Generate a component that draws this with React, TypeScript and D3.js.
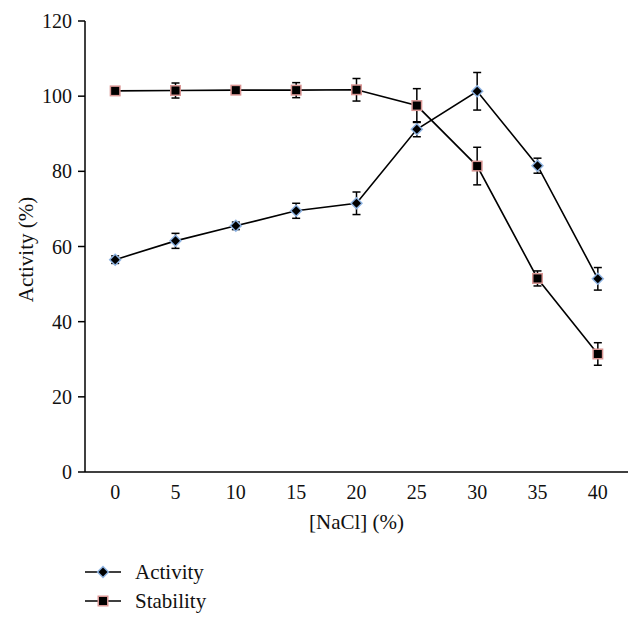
import React from "react";
import * as d3 from "d3";

const categories = ["0", "5", "10", "15", "20", "25", "30", "35", "40"];
const activity = [56.5, 61.5, 65.5, 69.5, 71.5, 91.2, 101.3, 81.5, 51.4];
const activityErr = [1, 2, 1, 2, 3, 2, 5, 2, 3];
const stability = [101.4, 101.5, 101.6, 101.6, 101.7, 97.5, 81.4, 51.5, 31.4];
const stabilityErr = [0.5, 2, 0.5, 2, 3, 4.5, 5, 2, 3];
const yTicks = [0, 20, 40, 60, 80, 100, 120];

const W = 642, H = 626;
const left = 85, right = 628, top = 21, bottom = 472;
const font = "'Liberation Serif', 'Times New Roman', serif";

export default function App() {
  const x = d3.scaleBand().domain(categories).range([left, right]);
  const y = d3.scaleLinear().domain([0, 120]).range([bottom, top]);
  const cx = (c: string) => (x(c) as number) + x.bandwidth() / 2;
  const line = d3.line<number>().x((_, i) => cx(categories[i])).y((v) => y(v));

  const diamond = (px: number, py: number, key?: string) => (
    <g key={key}>
      <path d={`M${px},${py - 6.5} L${px + 6.5},${py} L${px},${py + 6.5} L${px - 6.5},${py} Z`} fill="#8db3e2" />
      <path d={`M${px},${py - 4.5} L${px + 4.5},${py} L${px},${py + 4.5} L${px - 4.5},${py} Z`} fill="#000" />
    </g>
  );
  const square = (px: number, py: number, key?: string) => (
    <g key={key}>
      <rect x={px - 5.5} y={py - 5.5} width={11} height={11} fill="#d99694" />
      <rect x={px - 4} y={py - 4} width={8} height={8} fill="#000" />
    </g>
  );
  const errBar = (px: number, v: number, e: number, key: string) => (
    <g key={key} stroke="#000" strokeWidth={1.5}>
      <line x1={px} x2={px} y1={y(v + e)} y2={y(v - e)} />
      <line x1={px - 4} x2={px + 4} y1={y(v + e)} y2={y(v + e)} />
      <line x1={px - 4} x2={px + 4} y1={y(v - e)} y2={y(v - e)} />
    </g>
  );

  return (
    <svg width={W} height={H} style={{ position: "absolute", left: 0, top: 0 }}>
      <rect width={W} height={H} fill="#fff" />
      {/* axes */}
      <line x1={left} x2={left} y1={top} y2={bottom} stroke="#000" strokeWidth={1.5} />
      <line x1={left} x2={right} y1={bottom} y2={bottom} stroke="#000" strokeWidth={1.5} />
      {yTicks.map((t) => (
        <g key={t}>
          <line x1={left - 7} x2={left} y1={y(t)} y2={y(t)} stroke="#000" strokeWidth={1.5} />
          <text x={left - 13} y={y(t)} dy="0.35em" textAnchor="end" fontFamily={font} fontSize={20} fill="#111">{t}</text>
        </g>
      ))}
      {categories.map((c) => (
        <text key={c} x={cx(c)} y={499} textAnchor="middle" fontFamily={font} fontSize={20} fill="#111">{c}</text>
      ))}
      <text x={(left + right) / 2} y={529} textAnchor="middle" fontFamily={font} fontSize={21} fill="#111">[NaCl] (%)</text>
      <text transform={`translate(33,${(top + bottom) / 2 + 3}) rotate(-90)`} textAnchor="middle" fontFamily={font} fontSize={21} fill="#111">Activity (%)</text>

      {/* error bars */}
      {activity.map((v, i) => errBar(cx(categories[i]), v, activityErr[i], "ae" + i))}
      {stability.map((v, i) => errBar(cx(categories[i]), v, stabilityErr[i], "se" + i))}
      {/* lines */}
      <path d={line(activity) || ""} fill="none" stroke="#000" strokeWidth={1.6} />
      <path d={line(stability) || ""} fill="none" stroke="#000" strokeWidth={1.6} />
      {activity.map((v, i) => diamond(cx(categories[i]), y(v), "ad" + i))}
      {stability.map((v, i) => square(cx(categories[i]), y(v), "sq" + i))}

      {/* legend */}
      <line x1={85} x2={121} y1={572} y2={572} stroke="#000" strokeWidth={1.6} />
      {diamond(103, 572)}
      <text x={135} y={572} dy="0.35em" fontFamily={font} fontSize={21} fill="#111">Activity</text>
      <line x1={85} x2={121} y1={601} y2={601} stroke="#000" strokeWidth={1.6} />
      {square(103, 601)}
      <text x={135} y={601} dy="0.35em" fontFamily={font} fontSize={21} fill="#111">Stability</text>
    </svg>
  );
}
